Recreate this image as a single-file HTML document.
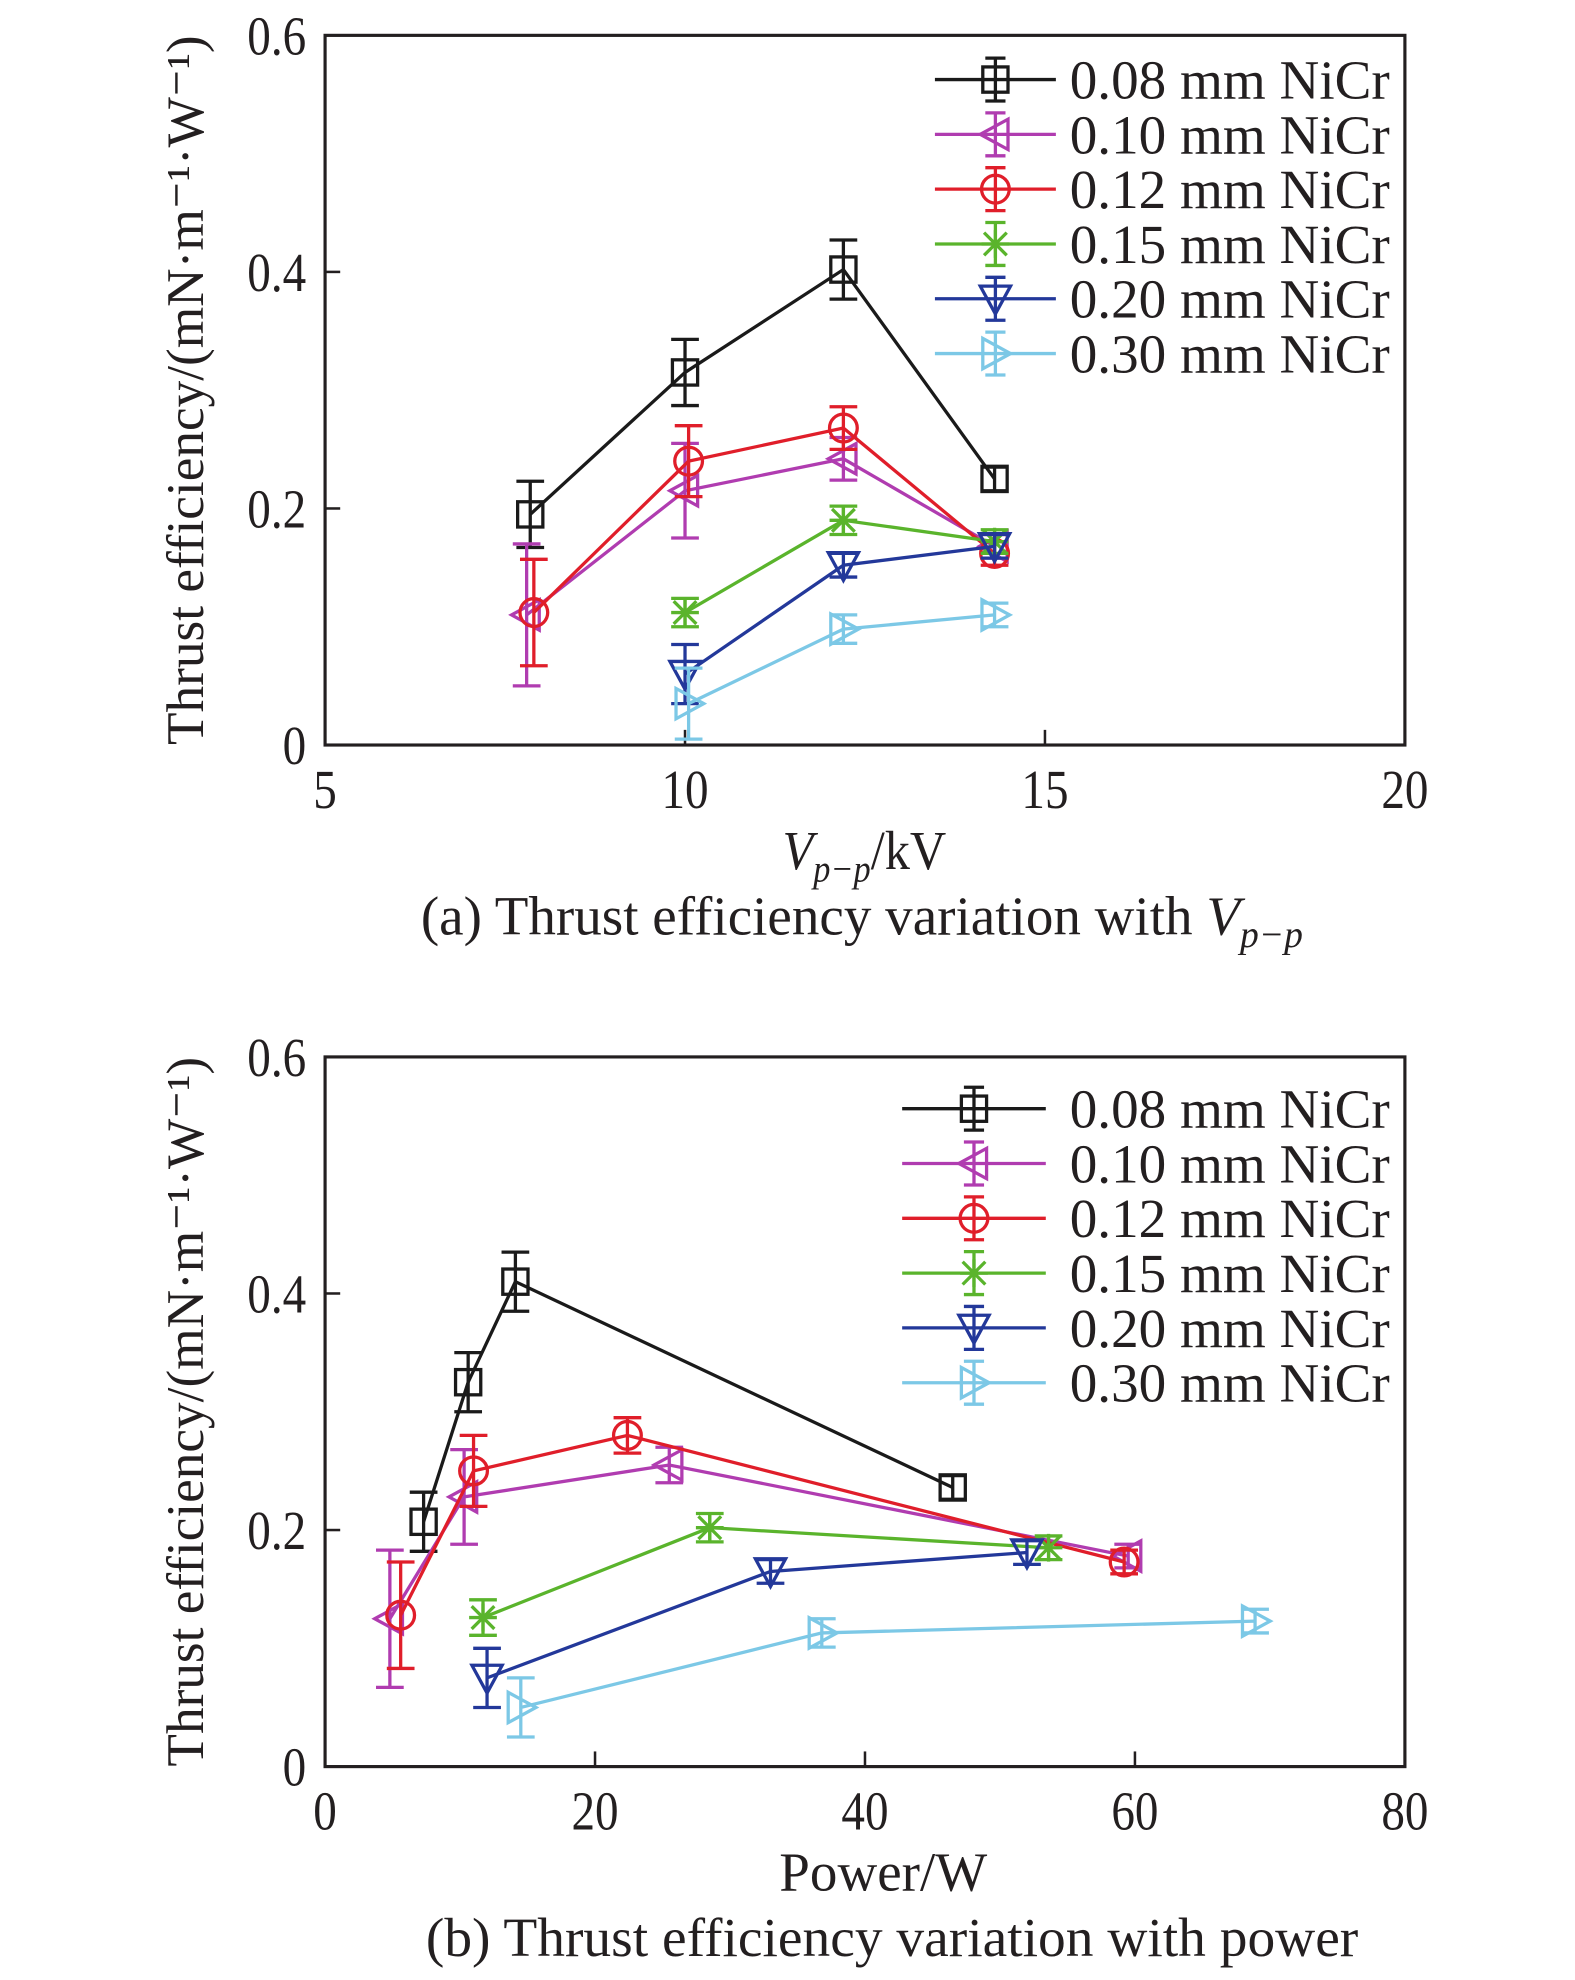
<!DOCTYPE html>
<html><head><meta charset="utf-8"><style>
html,body{margin:0;padding:0;background:#fff;}
svg{display:block;}
text{font-family:"Liberation Serif",serif;fill:#231f20;}
</style></head><body>
<svg id="fig" width="1575" height="1980" viewBox="0 0 1250 1568" preserveAspectRatio="none" xmlns="http://www.w3.org/2000/svg"></svg>
<script>
const seriesNames = ["0.08 mm NiCr","0.10 mm NiCr","0.12 mm NiCr","0.15 mm NiCr","0.20 mm NiCr","0.30 mm NiCr"];
const seriesColors = ["#1a1a1a","#b03cb0","#e01e2a","#5ab42c","#23389a","#7cc8e6"];
const seriesMarkers = ["square","left","circle","star","down","right"];
// Panel (a): Vpp (kV)
const aX = [[7.85,10,12.2,14.3],[7.8,10,12.2,14.3],[7.9,10.05,12.2,14.3],[10,12.2,14.3],[10,12.2,14.3],[10.05,12.2,14.3]];
const aY = [[0.195,0.315,0.402,0.225],[0.11,0.215,0.242,0.168],[0.112,0.24,0.268,0.162],[0.112,0.19,0.172],[0.06,0.152,0.168],[0.035,0.098,0.11]];
const aErr = [[0.028,0.028,0.025,0.01],[0.06,0.04,0.018,0.01],[0.045,0.03,0.018,0.01],[0.012,0.012,0.01],[0.025,0.01,0.01],[0.03,0.012,0.01]];
const aXTicks = [5,10,15,20];
// Panel (b): Power (W)
const bX = [[7.3,10.6,14.1,46.5],[4.8,10.3,25.5,59.5],[5.6,11.0,22.4,59.2],[11.7,28.5,53.6],[12,33,52],[14.5,36.8,68.9]];
const bY = [[0.207,0.325,0.41,0.236],[0.125,0.228,0.255,0.178],[0.128,0.25,0.28,0.173],[0.126,0.202,0.185],[0.075,0.165,0.181],[0.05,0.113,0.123]];
const bErr = [[0.025,0.025,0.025,0.01],[0.058,0.04,0.015,0.01],[0.045,0.03,0.015,0.01],[0.015,0.012,0.01],[0.025,0.01,0.01],[0.025,0.012,0.01]];
const bXTicks = [0,20,40,60,80];
const yTicks = [0,0.2,0.4,0.6];
const yTickLabels = ["0","0.2","0.4","0.6"];

const NS="http://www.w3.org/2000/svg";
const svg=document.getElementById('fig');
function mk(tag,attrs,parent){const e=document.createElementNS(NS,tag);for(const k in attrs)e.setAttribute(k,attrs[k]);(parent||svg).appendChild(e);return e;}

function marker(g,type,cx,cy,color){
  const s=10;let e;
  const st={fill:'none',stroke:color,'stroke-width':2.6};
  if(type==='square'){e=mk('rect',Object.assign({x:cx-s,y:cy-s,width:2*s,height:2*s},st),g);}
  else if(type==='circle'){e=mk('circle',Object.assign({cx:cx,cy:cy,r:11},st),g);}
  else if(type==='left'){e=mk('polygon',Object.assign({points:`${cx-12},${cy} ${cx+10},${cy-12} ${cx+10},${cy+12}`},st),g);}
  else if(type==='right'){e=mk('polygon',Object.assign({points:`${cx+12},${cy} ${cx-10},${cy-12} ${cx-10},${cy+12}`},st),g);}
  else if(type==='down'){e=mk('polygon',Object.assign({points:`${cx},${cy+12} ${cx-12},${cy-10} ${cx+12},${cy-10}`},st),g);}
  else {e=mk('path',Object.assign({d:`M${cx-9},${cy-9}L${cx+9},${cy+9}M${cx+9},${cy-9}L${cx-9},${cy+9}M${cx},${cy-11}L${cx},${cy+11}M${cx-11},${cy}L${cx+11},${cy}`},st),g);}
  
  
}

function panel(opt){
  const L=258,R=1115,T=opt.top,B=opt.top+562;
  const sx=v=>L+(v-opt.xmin)/(opt.xmax-opt.xmin)*(R-L);
  const sy=v=>B-v/0.6*(B-T);
  const g=mk('g',{});
  
  
  const frame=mk('rect',{x:L,y:T,width:R-L,height:B-T,fill:'none',stroke:'#231f20','stroke-width':2.5},g);
  
  
  opt.xticks.forEach(v=>{
    const x=sx(v);
    mk('line',{x1:x,y1:B,x2:x,y2:B-12,stroke:'#231f20','stroke-width':2},g);
    const t=mk('text',{x:x,y:B+50,'text-anchor':'middle','font-size':44,transform:`translate(${x},0) scale(0.85,1) translate(${-x},0)`},g);t.textContent=v;
    
    
  });
  yTicks.forEach((v,i)=>{
    const y=sy(v);
    mk('line',{x1:L,y1:y,x2:L+12,y2:y,stroke:'#231f20','stroke-width':2},g);
    const t=mk('text',{x:243,y:y+15,'text-anchor':'end','font-size':44,transform:`translate(243,0) scale(0.85,1) translate(-243,0)`},g);t.textContent=yTickLabels[i];
    
    
  });
  const yt=mk('text',{x:0,y:0,'font-size':42,'text-anchor':'middle',transform:`translate(161,${(T+B)/2}) rotate(-90)`,textLength:562,lengthAdjust:'spacingAndGlyphs'},g);
  yt.textContent='Thrust efficiency/(mN·m⁻¹·W⁻¹)';
  
  
  for(let s=0;s<seriesNames.length;s++){
    const sg=mk('g',{},g);
    
    
    const c=seriesColors[s];
    const pts=opt.X[s].map((x,i)=>sx(x)+','+sy(opt.Y[s][i])).join(' ');
    mk('polyline',{points:pts,fill:'none',stroke:c,'stroke-width':2.6},sg);
    opt.X[s].forEach((x,i)=>{
      const px=sx(x),py=sy(opt.Y[s][i]),e=opt.E[s][i];
      const y1=sy(opt.Y[s][i]+e),y2=sy(opt.Y[s][i]-e);
      mk('path',{d:`M${px},${y1}L${px},${y2}M${px-11},${y1}L${px+11},${y1}M${px-11},${y2}L${px+11},${y2}`,stroke:c,'stroke-width':2.6,fill:'none'},sg);
      marker(sg,seriesMarkers[s],px,py,c);
    });
  }
  seriesNames.forEach((n,i)=>{
    const lg=mk('g',{},g);
    
    
    const y=opt.legY+i*43.4,c=seriesColors[i],mx=(opt.legX1+opt.legX2)/2;
    mk('line',{x1:opt.legX1,y1:y,x2:opt.legX2,y2:y,stroke:c,'stroke-width':2.6},lg);
    mk('path',{d:`M${mx},${y-17}L${mx},${y+17}M${mx-8},${y-17}L${mx+8},${y-17}M${mx-8},${y+17}L${mx+8},${y+17}`,stroke:c,'stroke-width':2.6},lg);
    marker(lg,seriesMarkers[i],mx,y,c);
    const t=mk('text',{x:849,y:y+15,'font-size':44,textLength:254,lengthAdjust:'spacingAndGlyphs'},lg);t.textContent=n;
  });
  const xt=mk('text',{x:opt.xtX,y:B+98,'font-size':44,'text-anchor':'middle',textLength:opt.xtLen,lengthAdjust:'spacingAndGlyphs'},g);
  xt.innerHTML=opt.xtitle;
  
  
  const cap=mk('text',{x:opt.capX,y:B+150,'font-size':44,'text-anchor':'middle',textLength:opt.capLen,lengthAdjust:'spacingAndGlyphs'},g);
  cap.innerHTML=opt.caption;
  
  
}
panel({name:'chart-a-vpp',top:28,xmin:5,xmax:20,xticks:aXTicks,X:aX,Y:aY,E:aErr,legY:63,legX1:742,legX2:838,
  xtX:686,xtLen:130,xtitle:'<tspan font-style="italic">V</tspan><tspan font-style="italic" font-size="30" dy="10">p−p</tspan><tspan dy="-10">/kV</tspan>',
  capX:684,capLen:700,caption:'(a) Thrust efficiency variation with <tspan font-style="italic">V</tspan><tspan font-style="italic" font-size="30" dy="10">p−p</tspan>'});
panel({name:'chart-b-power',top:837,xmin:0,xmax:80,xticks:bXTicks,X:bX,Y:bY,E:bErr,legY:878,legX1:716,legX2:830,
  xtX:701,xtLen:165,xtitle:'Power/W',capX:708,capLen:740,caption:'(b) Thrust efficiency variation with power'});
</script>
</body></html>
